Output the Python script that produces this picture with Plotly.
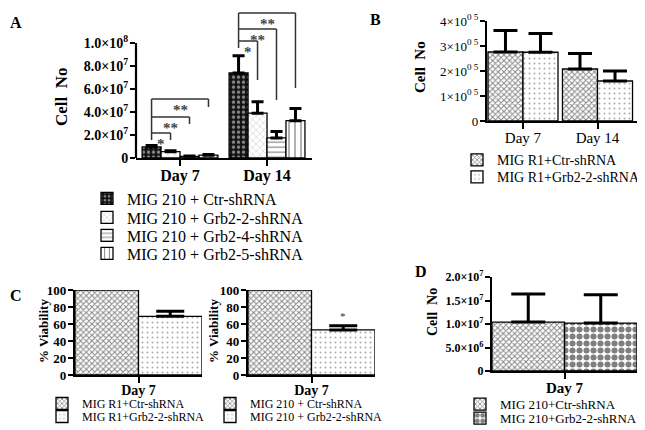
import plotly.graph_objects as go

# ---------------- data ----------------
days = ["Day 7", "Day 14"]
day7 = ["Day 7"]

a_names = ["MIG 210 + Ctr-shRNA", "MIG 210 + Grb2-2-shRNA",
           "MIG 210 + Grb2-4-shRNA", "MIG 210 + Grb2-5-shRNA"]
a_ctr = [9.6e6, 7.4e7]
a_ctr_err = [1.2e6, 1.5e7]
a_g22 = [5.5e6, 3.9e7]
a_g22_err = [0.8e6, 1.0e7]
a_g24 = [1.5e6, 1.75e7]
a_g24_err = [0.3e6, 0.55e7]
a_g25 = [2.5e6, 3.25e7]
a_g25_err = [0.5e6, 1.05e7]
a_ticks = [0, 2e7, 4e7, 6e7, 8e7, 1e8]
a_ticktext = ["0", "2.0×10<sup>7</sup>", "4.0×10<sup>7</sup>", "6.0×10<sup>7</sup>",
              "8.0×10<sup>7</sup>", "1.0×10<sup>8</sup>"]

b_names = ["MIG R1+Ctr-shRNA", "MIG R1+Grb2-2-shRNA"]
b_ctr = [2.76e5, 2.08e5]
b_ctr_err = [0.86e5, 0.62e5]
b_g22 = [2.75e5, 1.6e5]
b_g22_err = [0.75e5, 0.4e5]
b_ticks = [0, 1e5, 2e5, 3e5, 4e5]
b_ticktext = ["0", "1×10<sup>0 5</sup>", "2×10<sup>0 5</sup>", "3×10<sup>0 5</sup>", "4×10<sup>0 5</sup>"]

c1_names = ["MIG R1+Ctr-shRNA", "MIG R1+Grb2-2-shRNA"]
c1_ctr = [100]
c1_g22 = [69]
c1_g22_err = [6]
c2_names = ["MIG 210 + Ctr-shRNA", "MIG 210 + Grb2-2-shRNA"]
c2_ctr = [100]
c2_g22 = [53]
c2_g22_err = [5]
c_ticks = [0, 20, 40, 60, 80, 100]

d_names = ["MIG 210+Ctr-shRNA", "MIG 210+Grb2-2-shRNA"]
d_ctr = [1.04e7]
d_ctr_err = [0.6e7]
d_g22 = [1.02e7]
d_g22_err = [0.6e7]
d_ticks = [0, 5e6, 1e7, 1.5e7, 2e7]
d_ticktext = ["0", "5.0×10<sup>6</sup>", "1.0×10<sup>7</sup>", "1.5×10<sup>7</sup>", "2.0×10<sup>7</sup>"]

# ---------------- styling ----------------
# the page body has an 8px margin, so the figure is drawn 8px in from the window corner
OFF = 8
W, H = 645 - OFF, 430 - OFF
SERIF = "Liberation Serif"


def px(x):
    return min(1.0, max(0.0, (x - OFF) / W))


def py(y):
    return min(1.0, max(0.0, 1 - (y - OFF) / H))


pat_a = [
    dict(shape=".", fgcolor="white", bgcolor="#111", size=5, solidity=0.35),
    dict(shape="x", fgcolor="#666", bgcolor="white", size=5, solidity=0.15),
    dict(shape="-", fgcolor="#111", bgcolor="white", size=5, solidity=0.25),
    dict(shape="|", fgcolor="#111", bgcolor="white", size=6, solidity=0.22),
]
pat_ctr = dict(shape="x", fgcolor="#111", bgcolor="white", size=4, solidity=0.45)
pat_dot = dict(shape=".", fgcolor="#555", bgcolor="white", size=5, solidity=0.12)
pat_check = dict(shape=".", fgcolor="#000", bgcolor="white", size=7, solidity=0.6)

fig = go.Figure()

legend_rows = {}


def legend_box(name, text_x, row_y, fs):
    top = row_y - (0.9 * fs + 2.2)
    legend_rows[name] = dict(x=px(text_x - 40), y=py(top), xanchor="left", yanchor="top",
                             bgcolor="rgba(0,0,0,0)", borderwidth=0,
                             font=dict(family=SERIF, size=fs, color="black"),
                             itemclick=False, itemdoubleclick=False)


legend_count = [0]


def add_bar(x, y, err, name, xa, ya, offset, width, pat, errw, leg, errt=3):
    legend_count[0] += 1
    lname = "legend" if legend_count[0] == 1 else "legend%d" % legend_count[0]
    legend_box(lname, *leg)
    kw = {}
    if err is not None:
        kw["error_y"] = dict(type="data", array=err, arrayminus=[0] * len(err),
                             symmetric=False, color="black", thickness=errt, width=errw)
    fig.add_trace(go.Bar(
        x=x, y=y, name=name, xaxis=xa, yaxis=ya, offset=offset, width=width,
        marker=dict(color=pat["bgcolor"], pattern=pat,
                    line=dict(color="black", width=1.3)),
        legend=lname, **kw))


# Panel A
wa = 0.218
a_vals = [a_ctr, a_g22, a_g24, a_g25]
a_errs = [a_ctr_err, a_g22_err, a_g24_err, a_g25_err]
a_offs = [-2 * wa, -wa, 0, wa]
a_rows = [198, 217, 235, 253]
for i in range(4):
    add_bar(days, a_vals[i], a_errs[i], a_names[i], "x", "y", a_offs[i], wa,
            pat_a[i], 6, (127, a_rows[i], 16))

# Panel B
wb = 0.47
add_bar(days, b_ctr, b_ctr_err, b_names[0], "x2", "y2", -wb, wb, pat_ctr, 12, (497, 159, 14))
add_bar(days, b_g22, b_g22_err, b_names[1], "x2", "y2", 0, wb, pat_dot, 12, (497, 176, 14))

# Panel C
add_bar(day7, c1_ctr, None, c1_names[0], "x3", "y3", -0.5, 0.5, pat_ctr, 14, (82, 402, 12))
add_bar(day7, c1_g22, c1_g22_err, c1_names[1], "x3", "y3", 0, 0.5, pat_dot, 14, (82, 415, 12))
add_bar(day7, c2_ctr, None, c2_names[0], "x4", "y4", -0.5, 0.5, pat_ctr, 14, (250, 402, 12))
add_bar(day7, c2_g22, c2_g22_err, c2_names[1], "x4", "y4", 0, 0.5, pat_dot, 14, (250, 415, 12))

# Panel D
add_bar(day7, d_ctr, d_ctr_err, d_names[0], "x5", "y5", -0.5, 0.5, pat_ctr, 17, (500, 403, 13))
add_bar(day7, d_g22, d_g22_err, d_names[1], "x5", "y5", 0, 0.5, pat_check, 17, (500, 417, 13))


def xaxis(dom, rng, anchor, fs, bold, standoff=-4):
    return dict(domain=dom, range=rng, anchor=anchor, type="category",
                showline=True, linecolor="black", linewidth=2.2, mirror=False,
                ticks="outside", ticklen=6, tickwidth=2, tickcolor="black",
                showgrid=False, zeroline=False, ticklabelstandoff=standoff,
                tickfont=dict(family=SERIF, size=fs, color="black",
                              weight="bold" if bold else "normal"))


def yaxis(dom, rng, anchor, tv, tt, fs, bold, showline=True):
    return dict(domain=dom, range=rng, anchor=anchor, showline=showline,
                linecolor="black", linewidth=2.2, ticks="outside", ticklen=5,
                tickwidth=2, tickcolor="black", showgrid=False, zeroline=False,
                tickvals=tv, ticktext=tt, ticklabelstandoff=-1,
                tickfont=dict(family=SERIF, size=fs, color="black",
                              weight="bold" if bold else "normal"))


# A geometry: 115 px per 1e8, zero at 158 px; range extended for brackets
a_top = 1.29e8
fig.update_layout(
    xaxis=xaxis([px(136), px(312)], [-0.506, 1.517], "y", 16, True),
    yaxis=yaxis([py(158), py(158 - 115 * a_top / 1e8)], [0, a_top], "x",
                a_ticks, a_ticktext, 14, True, showline=False),
    xaxis2=xaxis([px(487), px(639)], [-0.483, 1.557], "y2", 15, False),
    yaxis2=yaxis([py(121), py(21)], [0, 4e5], "x2", b_ticks, b_ticktext, 13, False),
    xaxis3=xaxis([px(75), px(202)], [-0.5, 0.5], "y3", 14, True, -5),
    yaxis3=yaxis([py(375), py(290)], [0, 100], "x3", c_ticks, [str(v) for v in c_ticks], 13, True),
    xaxis4=xaxis([px(248), px(375)], [-0.5, 0.5], "y4", 14, True, -5),
    yaxis4=yaxis([py(375), py(290)], [0, 100], "x4", c_ticks, [str(v) for v in c_ticks], 13, True),
    xaxis5=xaxis([px(492), px(637)], [-0.5, 0.5], "y5", 15, True),
    yaxis5=yaxis([py(371), py(277)], [0, 2e7], "x5", d_ticks, d_ticktext, 12, True),
)

# A y axis line only up to 1e8
fig.add_shape(type="line", xref="x domain", yref="y", x0=0, x1=0, y0=0, y1=1e8,
              line=dict(color="black", width=2.2))


def bar_center(cat, k):
    return cat + a_offs[k] + wa / 2


# significance brackets: (category, right bar, line level, right leg bottom, label)
brackets = [
    (0, 1, 2.17e7, 1.57e7, "*"),
    (0, 2, 3.57e7, 2.96e7, "**"),
    (0, 3, 5.13e7, 4.43e7, "**"),
    (1, 1, 1.017e8, 6.78e7, "*"),
    (1, 2, 1.122e8, 5.04e7, "**"),
    (1, 3, 1.26e8, 6.09e7, "**"),
]
left_leg_bottom = {0: 1.57e7, 1: 9.57e7}
line_style = dict(color="#333", width=1.5)
for cat in (0, 1):
    top = max(b[2] for b in brackets if b[0] == cat)
    xl = bar_center(cat, 0)
    fig.add_shape(type="line", xref="x", yref="y", x0=xl, x1=xl, y0=left_leg_bottom[cat],
                  y1=top, line=line_style)
for cat, k, lvl, leg, lab in brackets:
    xl = bar_center(cat, 0)
    xr = bar_center(cat, k)
    fig.add_shape(type="line", xref="x", yref="y", x0=xl, x1=xr, y0=lvl, y1=lvl, line=line_style)
    fig.add_shape(type="line", xref="x", yref="y", x0=xr, x1=xr, y0=leg, y1=lvl, line=line_style)
    fig.add_annotation(x=(xl + xr) / 2, y=lvl, xref="x", yref="y", text=lab, showarrow=False,
                       xanchor="center", yanchor="top", yshift=-1,
                       font=dict(family=SERIF, size=15, color="#444", weight="bold"))

# star on C right
fig.add_annotation(x=0.25, y=c2_g22[0] + c2_g22_err[0] + 2, xref="x4", yref="y4", text="*",
                   showarrow=False, xanchor="center", yanchor="bottom",
                   font=dict(family=SERIF, size=11, color="#333"))

# panel letters
for lab, x, y in [("A", 16, 22), ("B", 375, 20), ("C", 16, 295), ("D", 421, 271)]:
    fig.add_annotation(x=px(x), y=py(y), xref="paper", yref="paper", text=lab, showarrow=False,
                       xanchor="center", yanchor="middle",
                       font=dict(family=SERIF, size=16, color="black", weight="bold"))

# y titles
for lab, x, y, fs in [("Cell\u00a0\u00a0No", 61, 97, 17), ("Cell\u00a0\u00a0No", 420, 67, 15),
                      ("% Viability", 43, 331, 13), ("% Viability", 213, 331, 13),
                      ("Cell\u00a0\u00a0No", 432, 312, 14)]:
    fig.add_annotation(x=px(x), y=py(y), xref="paper", yref="paper", text=lab, showarrow=False,
                       textangle=-90, xanchor="center", yanchor="middle",
                       font=dict(family=SERIF, size=fs, color="black", weight="bold"))

fig.update_layout(
    width=W, height=H, margin=dict(l=0, r=0, t=0, b=0, autoexpand=False),
    paper_bgcolor="white", plot_bgcolor="white", barmode="overlay",
    showlegend=True, **legend_rows,
)

fig.write_html("out.html")
